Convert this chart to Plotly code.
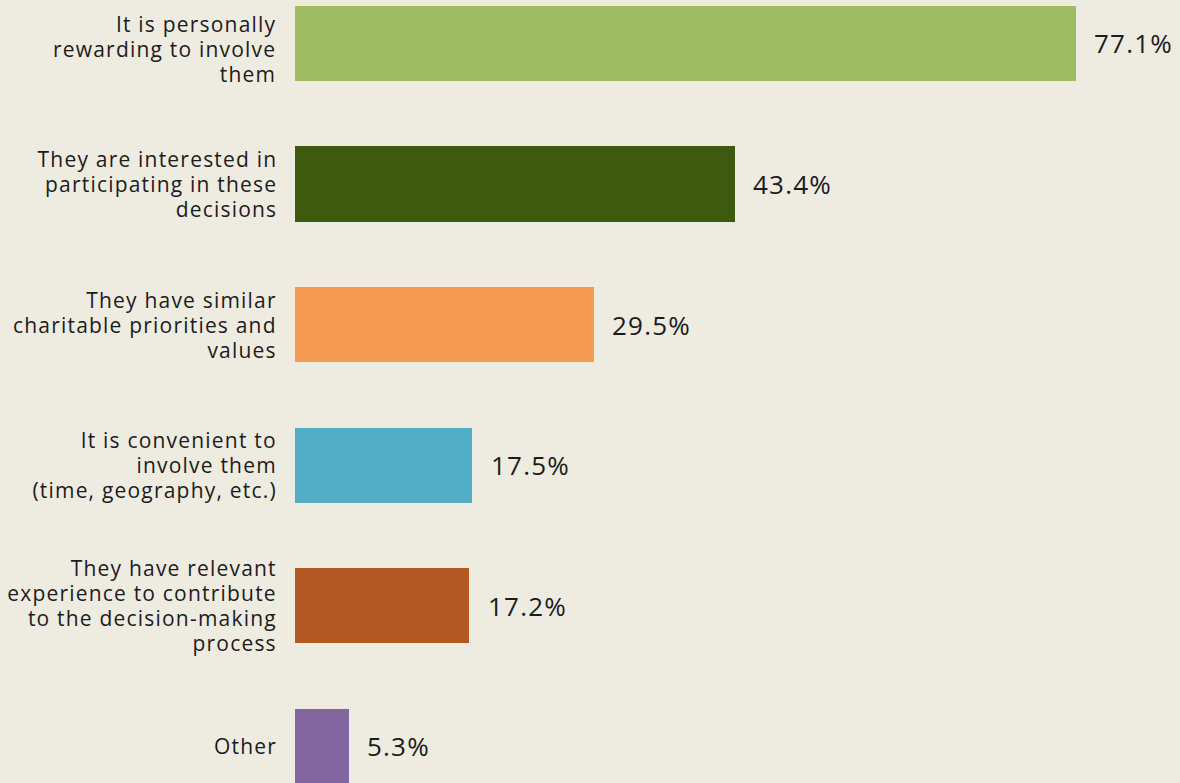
import plotly.graph_objects as go

categories = [
    "It is personally<br>rewarding to involve<br>them",
    "They are interested in<br>participating in these<br>decisions",
    "They have similar<br>charitable priorities and<br>values",
    "It is convenient to<br>involve them<br>(time, geography, etc.)",
    "They have relevant<br>experience to contribute<br>to the decision-making<br>process",
    "Other",
]
values = [77.1, 43.4, 29.5, 17.5, 17.2, 5.3]
value_labels = ["77.1%", "43.4%", "29.5%", "17.5%", "17.2%", "5.3%"]
colors = ["#9FBC62", "#3D5A0E", "#F59A52", "#52ADC7", "#B45826", "#8366A0"]

BG = "#EEEBE1"
TXT = "#1C1C1C"
LINE_GAP = 25          # px between label lines
GLYPH = 21             # px glyph size of label text

fig = go.Figure()
fig.add_trace(go.Bar(
    x=values,
    y=categories,
    orientation="h",
    marker=dict(color=colors, line=dict(width=0)),
    width=0.535,
    hoverinfo="skip",
))

# category labels: text element size sets line spacing (1.3em), inner spans set glyph size
label_shift = [-6, 0, 0, 0, 0, 0]
for c, dy in zip(categories, label_shift):
    txt = "<br>".join(
        f"<span style='font-size:{GLYPH}px'>{ln}</span>" for ln in c.split("<br>")
    )
    fig.add_annotation(
        x=0, y=c, xref="x", yref="y",
        text=txt, showarrow=False,
        xanchor="right", yanchor="middle", align="right",
        xshift=-16, yshift=dy,
        font=dict(family="Open Sans", size=LINE_GAP / 1.3, color=TXT),
    )

for c, v, t in zip(categories, values, value_labels):
    fig.add_annotation(
        x=v, y=c, xref="x", yref="y",
        text=t, showarrow=False,
        xanchor="left", yanchor="middle", align="left",
        xshift=16.5,
        font=dict(family="Open Sans", size=26, color=TXT),
    )

fig.update_layout(
    width=1180, height=783,
    margin=dict(l=295, r=0, t=0, b=0),
    paper_bgcolor=BG, plot_bgcolor=BG,
    showlegend=False,
    bargap=0,
    xaxis=dict(range=[0, 87.37], visible=False, fixedrange=True),
    yaxis=dict(
        type="category",
        range=[5.26, -0.309],
        showgrid=False, zeroline=False, showline=False,
        ticks="", showticklabels=False,
        fixedrange=True,
    ),
)

post = """
document.documentElement.style.margin='0';
document.body.style.margin='0';
document.body.style.background='#EEEBE1';
var s=document.createElement('style');
s.textContent='.annotation-text{letter-spacing:1.2px}';
document.head.appendChild(s);
"""
fig.write_html("out.html", post_script=post, config={"displayModeBar": False})
